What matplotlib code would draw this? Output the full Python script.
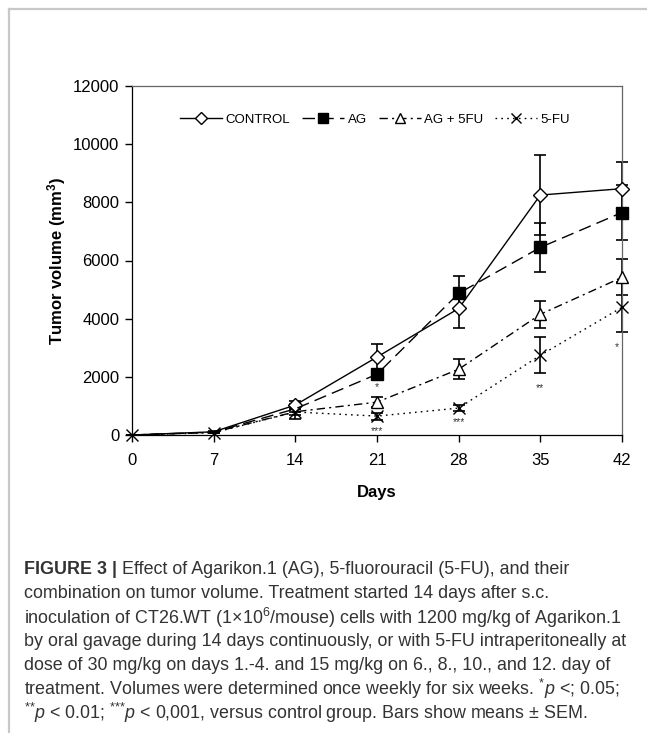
import matplotlib
matplotlib.use("Agg")
import matplotlib.pyplot as plt
from matplotlib.lines import Line2D

plt.rcParams['font.family'] = ['Liberation Sans', 'DejaVu Sans']
plt.rcParams['mathtext.fontset'] = 'custom'
plt.rcParams['mathtext.rm'] = 'Liberation Sans'
plt.rcParams['mathtext.it'] = 'Liberation Sans:italic'
plt.rcParams['mathtext.bf'] = 'Liberation Sans:bold'

# ---------------- data ----------------
days = [0, 7, 14, 21, 28, 35, 42]
control = [0, 110, 1030, 2680, 4350, 8250, 8470]
control_err = [0, 20, 150, 440, 680, 1380, 900]
ag = [0, 100, 900, 2090, 4870, 6450, 7650]
ag_err = [0, 20, 120, 150, 580, 830, 950]
ag5fu = [0, 90, 800, 1130, 2260, 4150, 5420]
ag5fu_err = [0, 20, 250, 160, 350, 460, 620]
fu = [0, 80, 790, 650, 925, 2740, 4390]
fu_err = [0, 20, 100, 120, 100, 620, 860]

series_names = ["CONTROL", "AG", "AG + 5FU", "5-FU"]
x_ticks = [0, 7, 14, 21, 28, 35, 42]
y_ticks = [0, 2000, 4000, 6000, 8000, 10000, 12000]

# significance marks (day, height, text)
sig_x = [21, 21, 28, 35, 41.6]
sig_y = [1650, 150, 430, 1620, 3020]
sig_text = ["*", "***", "***", "**", "*"]

caption_head = "FIGURE 3 |"
caption_first = " Effect of Agarikon.1 (AG), 5-fluorouracil (5-FU), and their"
caption_lines = [
    "combination on tumor volume. Treatment started 14 days after s.c.",
    "inoculation of CT26.WT (1\u00d710$^{6}$/mouse) cells with 1200 mg/kg of Agarikon.1",
    "by oral gavage during 14 days continuously, or with 5-FU intraperitoneally at",
    "dose of 30 mg/kg on days 1.-4. and 15 mg/kg on 6., 8., 10., and 12. day of",
    "treatment. Volumes were determined once weekly for six weeks. $^{*}p$ <; 0.05;",
    "$^{{*}{*}}p$ < 0.01; $^{{*}{*}{*}}p$ < 0,001, versus control group. Bars show means \u00b1 SEM.",
]

# ---------------- figure ----------------
W, H = 647, 733
fig = plt.figure(figsize=(W / 100, H / 100), dpi=100)
ax = fig.add_axes([132 / W, 1 - 435 / H, (622 - 132) / W, (435 - 86) / H])

styles = [
    dict(marker='D', mfc='white', ms=7.5, dashes=None, start=2),
    dict(marker='s', mfc='black', ms=8, dashes=(9, 4.5), start=3),
    dict(marker='^', mfc='white', ms=8.5, dashes=(6, 3, 1.5, 3), start=3),
    dict(marker='x', mfc='black', ms=8.5, dashes=(1.2, 3), start=0),
]
datas = [(control, control_err), (ag, ag_err), (ag5fu, ag5fu_err), (fu, fu_err)]

handles = []
for (vals, errs), st, name in zip(datas, styles, series_names):
    ax.errorbar(days, vals, yerr=errs, fmt='none', ecolor='black',
                elinewidth=1.2, capsize=4, capthick=1.2, zorder=2, clip_on=False)
    kw = dict(color='black', lw=1.0, mec='black', mew=1.0, clip_on=False, zorder=3)
    ls = '-' if st['dashes'] is None else (0, st['dashes'])
    ax.plot(days, vals, linestyle=ls, **kw)
    ax.plot(days[st['start']:], vals[st['start']:], linestyle='none',
            marker=st['marker'], mfc=st['mfc'], ms=st['ms'], **kw)
    h = Line2D([], [], linestyle=ls, marker=st['marker'], mfc=st['mfc'],
               ms=st['ms'] * 0.85, color='black', lw=1.0, mec='black', mew=1.0)
    handles.append(h)

for xx, yy, tt in zip(sig_x, sig_y, sig_text):
    ax.text(xx, yy, tt, ha='center', va='center', fontsize=7.5, color='#333333')

ax.set_xlim(0, 42)
ax.set_ylim(0, 12000)
ax.set_xticks(x_ticks)
ax.set_yticks(y_ticks)
ax.tick_params(axis='x', direction='out', length=5, width=1.0, labelsize=12, pad=8)
ax.tick_params(axis='y', direction='out', length=5, width=1.0, labelsize=12, pad=4)
ax.tick_params(top=False, right=False)
for s in ax.spines.values():
    s.set_linewidth(0.9)
ax.spines['top'].set_color('#666666')
ax.spines['right'].set_color('#666666')

ax.set_xlabel("Days", fontsize=12, fontweight='bold', labelpad=12)
ax.set_ylabel("Tumor volume (mm$^\\mathbf{3}$)", fontsize=12,
              fontweight='bold', labelpad=4)

fig.legend(handles, series_names, loc='center', ncol=4, frameon=False,
           bbox_to_anchor=(375 / W, 1 - 120 / H), fontsize=9.5,
           handlelength=3.2, handletextpad=0.25, columnspacing=0.9,
           borderpad=0)

# gray frame lines
fig.add_artist(Line2D([9 / W, 1.0], [1 - 9 / H, 1 - 9 / H],
                      color='#c8c8c8', lw=1.6, transform=fig.transFigure))
fig.add_artist(Line2D([9 / W, 9 / W], [1 - 9 / H, 0],
                      color='#c8c8c8', lw=1.6, transform=fig.transFigure))

# caption
cap_color = '#333333'
cap_fs = 12.9
y0 = 1 - 570 / H
t1 = fig.text(24 / W, y0, caption_head, fontsize=cap_fs, fontweight='bold',
              color=cap_color, va='center', ha='left')
ax.annotate(caption_first, xy=(1, 0.5), xycoords=t1, va='center', ha='left',
            fontsize=cap_fs, color=cap_color, annotation_clip=False)
for i, line in enumerate(caption_lines):
    fig.text(24 / W, 1 - (594 + 23.7 * i) / H, line, fontsize=cap_fs,
             color=cap_color, va='center', ha='left')

fig.savefig("out.png", dpi=100)
